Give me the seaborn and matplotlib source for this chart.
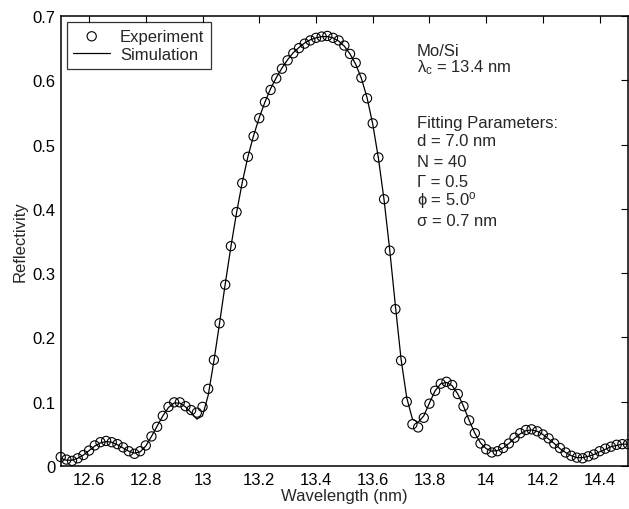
import numpy as np
import pandas as pd
import matplotlib
matplotlib.use("Agg")
import matplotlib.pyplot as plt
import seaborn as sns

# Measured and simulated reflectivity of a Mo/Si multilayer mirror
wavelength = np.round(np.linspace(12.5, 14.5, 101), 2)

experiment = [
    0.014, 0.010, 0.008, 0.012, 0.017, 0.024, 0.032, 0.037, 0.039, 0.037,
    0.034, 0.029, 0.023, 0.019, 0.023, 0.032, 0.046, 0.061, 0.078, 0.092,
    0.099, 0.099, 0.093, 0.087, 0.083, 0.092, 0.120, 0.165, 0.222, 0.282,
    0.342, 0.395, 0.440, 0.481, 0.513, 0.541, 0.566, 0.585, 0.603, 0.618,
    0.631, 0.642, 0.650, 0.657, 0.662, 0.666, 0.668, 0.669, 0.666, 0.662,
    0.654, 0.641, 0.627, 0.604, 0.572, 0.533, 0.480, 0.415, 0.335, 0.244,
    0.164, 0.100, 0.065, 0.060, 0.075, 0.097, 0.117, 0.128, 0.131, 0.126,
    0.112, 0.093, 0.071, 0.051, 0.035, 0.026, 0.021, 0.023, 0.028, 0.035,
    0.044, 0.051, 0.056, 0.057, 0.054, 0.049, 0.043, 0.035, 0.028, 0.021,
    0.016, 0.013, 0.012, 0.015, 0.018, 0.023, 0.027, 0.030, 0.033, 0.034,
    0.034,
]

simulation = [
    0.012, 0.009, 0.009, 0.012, 0.017, 0.024, 0.031, 0.036, 0.038, 0.037,
    0.033, 0.028, 0.023, 0.020, 0.022, 0.031, 0.046, 0.062, 0.078, 0.091,
    0.098, 0.098, 0.092, 0.083, 0.073, 0.078, 0.110, 0.163, 0.222, 0.283,
    0.341, 0.394, 0.441, 0.481, 0.514, 0.542, 0.566, 0.587, 0.604, 0.619,
    0.632, 0.643, 0.651, 0.658, 0.663, 0.666, 0.668, 0.668, 0.666, 0.661,
    0.653, 0.641, 0.625, 0.603, 0.573, 0.532, 0.479, 0.414, 0.336, 0.249,
    0.166, 0.106, 0.073, 0.068, 0.078, 0.098, 0.117, 0.128, 0.130, 0.125,
    0.112, 0.093, 0.071, 0.051, 0.036, 0.027, 0.023, 0.024, 0.028, 0.035,
    0.043, 0.050, 0.055, 0.056, 0.054, 0.049, 0.042, 0.035, 0.027, 0.021,
    0.016, 0.013, 0.013, 0.015, 0.018, 0.022, 0.026, 0.030, 0.032, 0.034,
    0.034,
]

x_ticks = [12.6, 12.8, 13.0, 13.2, 13.4, 13.6, 13.8, 14.0, 14.2, 14.4]
x_tick_labels = ["12.6", "12.8", "13", "13.2", "13.4", "13.6", "13.8", "14", "14.2", "14.4"]
y_ticks = [0, 0.1, 0.2, 0.3, 0.4, 0.5, 0.6, 0.7]
y_tick_labels = ["0", "0.1", "0.2", "0.3", "0.4", "0.5", "0.6", "0.7"]

info_lines = [
    "Mo/Si",
    r"$\mathrm{\lambda_c}$ = 13.4 nm",
    "Fitting Parameters:",
    "d = 7.0 nm",
    "N = 40",
    "Γ = 0.5",
    r"ϕ = 5.0$^\mathrm{o}$",
    "σ = 0.7 nm",
]
info_y = [0.640, 0.614, 0.527, 0.499, 0.467, 0.436, 0.407, 0.375]

assert len(wavelength) == len(experiment) == len(simulation)
df = pd.DataFrame({"wavelength": wavelength,
                   "experiment": experiment,
                   "simulation": simulation})

FS = 12

sns.set_theme(style="white")
plt.rcParams["font.family"] = ["Liberation Sans", "DejaVu Sans"]
plt.rcParams["mathtext.fontset"] = "custom"
plt.rcParams["mathtext.rm"] = "Liberation Sans"
plt.rcParams["mathtext.it"] = "Liberation Sans:italic"

fig = plt.figure(figsize=(6.29, 5.10), dpi=100)
ax = fig.add_axes([60.7 / 629, 43 / 510, 567.3 / 629, 450 / 510])

sns.lineplot(data=df, x="wavelength", y="simulation", ax=ax,
             color="black", linewidth=0.9, label="Simulation")
sns.scatterplot(data=df, x="wavelength", y="experiment", ax=ax,
                marker="o", s=44, facecolor="none", edgecolor="black",
                linewidth=0.8, label="Experiment", clip_on=False, zorder=3)

ax.set_xlim(12.5, 14.5)
ax.set_ylim(0, 0.7)
ax.set_xticks(x_ticks)
ax.set_xticklabels(x_tick_labels)
ax.set_yticks(y_ticks)
ax.set_yticklabels(y_tick_labels)
ax.tick_params(direction="in", length=5, width=0.8, top=True, right=True,
               labelsize=FS, colors="black", pad=4)
for spine in ax.spines.values():
    spine.set_visible(True)
    spine.set_color("black")
    spine.set_linewidth(1.1)

ax.set_xlabel("Wavelength (nm)", fontsize=FS, labelpad=1)
ax.set_ylabel("Reflectivity", fontsize=FS, labelpad=3)

handles, labels = ax.get_legend_handles_labels()
order = [labels.index("Experiment"), labels.index("Simulation")]
leg = ax.legend([handles[i] for i in order], [labels[i] for i in order],
                loc="upper left", bbox_to_anchor=(6 / 567.3, 1 - 6 / 450),
                borderaxespad=0, fontsize=FS, frameon=True, fancybox=False,
                handlelength=2.2, handletextpad=0.6, borderpad=0.4,
                labelspacing=0.2)
leg.get_frame().set_edgecolor("black")
leg.get_frame().set_linewidth(0.9)

for text, y in zip(info_lines, info_y):
    ax.text(13.756, y, text, fontsize=FS, ha="left", va="baseline")

fig.savefig("out.png", dpi=100)
